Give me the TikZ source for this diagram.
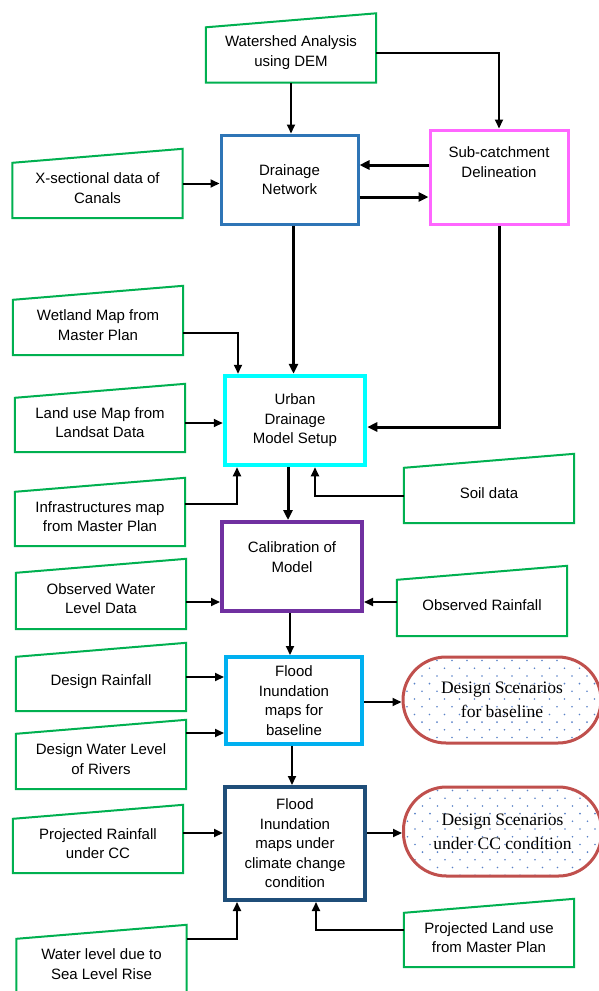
\documentclass[tikz,border=0pt]{standalone}
\usepackage{fontspec}
\setmainfont{Liberation Sans}
\newfontfamily\scenfont{Liberation Serif}
\usetikzlibrary{arrows.meta}
\definecolor{inputgreen}{RGB}{0,176,80}
\definecolor{drainblue}{RGB}{46,117,182}
\definecolor{subpink}{RGB}{255,102,255}
\definecolor{urbcyan}{RGB}{0,255,255}
\definecolor{calpurple}{RGB}{112,48,160}
\definecolor{floodblue}{RGB}{0,176,240}
\definecolor{flooddark}{RGB}{31,78,121}
\definecolor{scenred}{RGB}{192,80,77}
\definecolor{dotblue}{RGB}{90,130,200}
\begin{document}
\begin{tikzpicture}[x=1pt,y=-1pt,
  boxtext/.style={align=center, font=\fontsize{15}{19.5}\selectfont},
  inbox/.style={rectangle, minimum width=170pt, minimum height=69pt, inner sep=0pt},
  intext/.style={boxtext, yshift=-4.5pt},
  inline/.style={draw=inputgreen, line width=2pt, line join=miter},
  mainbox/.style={rectangle, draw, boxtext, inner sep=0pt},
  scen/.style={rectangle, draw=scenred, line width=3pt, rounded corners=43pt,
    align=center, inner sep=0pt, font=\scenfont\fontsize{17.5}{24}\selectfont,
    path picture={
      \foreach \r in {0,...,12}
        \foreach \c in {0,...,14}
          \fill[dotblue] ([xshift={\c*15pt+mod(\r,2)*7.5pt+4pt}, yshift={-\r*7.7pt-3.5pt}]path picture bounding box.north west) circle (0.9pt);
    }},
  arr/.style={draw, line width=2pt, -{Triangle[length=9pt,width=8pt]}},
  thickarr/.style={draw, line width=3pt, -{Triangle[length=10pt,width=9pt]}}
]
\useasboundingbox (0,0) rectangle (599,991);

% input data boxes
\node[inbox, label={[intext]center:{Watershed Analysis\\using DEM}}] (ws) at (291,48) {};
\node[inbox, label={[intext]center:{X-sectional data of\\Canals}}] (xs) at (97.5,183.5) {};
\node[inbox, label={[intext]center:{Wetland Map from\\Master Plan}}] (wet) at (98,320.5) {};
\node[inbox, minimum height=68pt, label={[intext]center:{Land use Map from\\Landsat Data}}] (land) at (100,418) {};
\node[inbox, minimum height=68pt, label={[intext]center:{Infrastructures map\\from Master Plan}}] (infra) at (100,512) {};
\node[inbox, label={[intext]center:{Soil data}}] (soil) at (489,488.5) {};
\node[inbox, minimum height=70pt, label={[intext]center:{Observed Water\\Level Data}}] (owl) at (101,594) {};
\node[inbox, minimum height=70pt, label={[intext]center:{Observed Rainfall}}] (orain) at (482,601) {};
\node[inbox, minimum height=68pt, label={[intext]center:{Design Rainfall}}] (drf) at (101,677) {};
\node[inbox, label={[intext]center:{Design Water Level\\of Rivers}}] (dwl) at (101,754.5) {};
\node[inbox, minimum height=68pt, label={[intext]center:{Projected Rainfall\\under CC}}] (prain) at (98,839) {};
\node[inbox, minimum height=78pt, label={[boxtext, yshift=0pt]center:{Water level due to\\Sea Level Rise}}] (slr) at (101.5,964) {};
\node[inbox, minimum height=68pt, label={[intext]center:{Projected Land use\\from Master Plan}}] (plu) at (489,933) {};

\foreach \n in {ws,xs,wet,land,infra,soil,owl,orain,drf,dwl,prain,slr,plu}
  \draw[inline] (\n.south west) -- (\n.south east) -- (\n.north east)
    -- ([yshift=-14pt]\n.north west) -- cycle;

% processing boxes
\node[mainbox, draw=drainblue, line width=3pt, minimum width=137pt, minimum height=89pt] (drn) at (289.5,179.5) {Drainage\\Network};
\node[mainbox, draw=subpink, line width=3pt, minimum width=138pt, minimum height=94pt,
  label={[boxtext, yshift=15pt]center:{Sub-catchment\\Delineation}}] (sub) at (499,177) {};
\node[mainbox, draw=urbcyan, line width=4.5pt, minimum width=140pt, minimum height=89pt] (urb) at (295,420.5) {Urban\\Drainage\\Model Setup};
\node[mainbox, draw=calpurple, line width=4pt, minimum width=140pt, minimum height=89pt,
  label={[boxtext, yshift=9.5pt]center:{Calibration of\\Model}}] (cal) at (292,566.5) {};
\node[mainbox, draw=floodblue, line width=4pt, minimum width=136pt, minimum height=87pt] (fl1) at (294,700.5) {Flood\\Inundation\\maps for\\baseline};
\node[mainbox, draw=flooddark, line width=4pt, minimum width=140pt, minimum height=113pt] (fl2) at (295,843.5) {Flood\\Inundation\\maps under\\climate change\\condition};

% outcome scenarios
\node[scen, minimum width=198pt, minimum height=86pt] (sc1) at (502,700) {Design Scenarios\\for baseline};
\node[scen, minimum width=198pt, minimum height=89pt] (sc2) at (502.5,831.5) {Design Scenarios\\under CC condition};

% connectors
\draw[arr] (ws.south) -- (ws.south |- drn.north);
\draw[arr] ([yshift=-5pt]ws.east) -| (sub.north);
\draw[thickarr] ([yshift=12pt]sub.west) -- ([yshift=12pt]sub.west -| drn.east);
\draw[thickarr] ([yshift=-17.5pt]drn.east) -- ([yshift=-17.5pt]drn.east -| sub.west);
\draw[arr] (xs.east) -- (xs.east -| drn.west);
\draw[thickarr] ([xshift=4pt]drn.south) -- ([xshift=4pt]drn.south |- urb.north);
\draw[thickarr] (sub.south) |- ([yshift=-6.5pt]urb.east);
\draw[arr] ([yshift=-12.5pt]wet.east) -| ([xshift=-57pt]urb.north);
\draw[arr] ([yshift=-5pt]land.east) -- ([yshift=-5pt]land.east -| urb.west);
\draw[arr] ([yshift=8pt]infra.east) -| ([xshift=-58pt]urb.south);
\draw[arr] ([yshift=-7.5pt]soil.west) -| ([xshift=20pt]urb.south);
\draw[thickarr] ([xshift=-7pt]urb.south) -- ([xshift=-7pt]urb.south |- cal.north);
\draw[arr] ([yshift=-8pt]owl.east) -- ([yshift=-8pt]owl.east -| cal.west);
\draw[arr] ([yshift=-1pt]orain.west) -- ([yshift=-1pt]orain.west -| cal.east);
\draw[arr] ([xshift=-2pt]cal.south) -- ([xshift=-2pt]cal.south |- fl1.north);
\draw[arr] (drf.east) -- (drf.east -| fl1.west);
\draw[arr] ([yshift=21.5pt]dwl.east) -- ([yshift=21.5pt]dwl.east -| fl1.west);
\draw[arr] ([yshift=-1.5pt]fl1.east) -- ([yshift=-1.5pt]fl1.east -| sc1.west);
\draw[arr] ([xshift=-2pt]fl1.south) -- ([xshift=-2pt]fl1.south |- fl2.north);
\draw[arr] ([yshift=6pt]prain.east) -- ([yshift=6pt]prain.east -| fl2.west);
\draw[arr] ([yshift=10.5pt]fl2.east) -- ([yshift=10.5pt]fl2.east -| sc2.west);
\draw[arr] ([yshift=25.5pt]slr.east) -| ([xshift=-58pt]fl2.south);
\draw[arr] ([yshift=3pt]plu.west) -| ([xshift=21pt]fl2.south);
\end{tikzpicture}
\end{document}
